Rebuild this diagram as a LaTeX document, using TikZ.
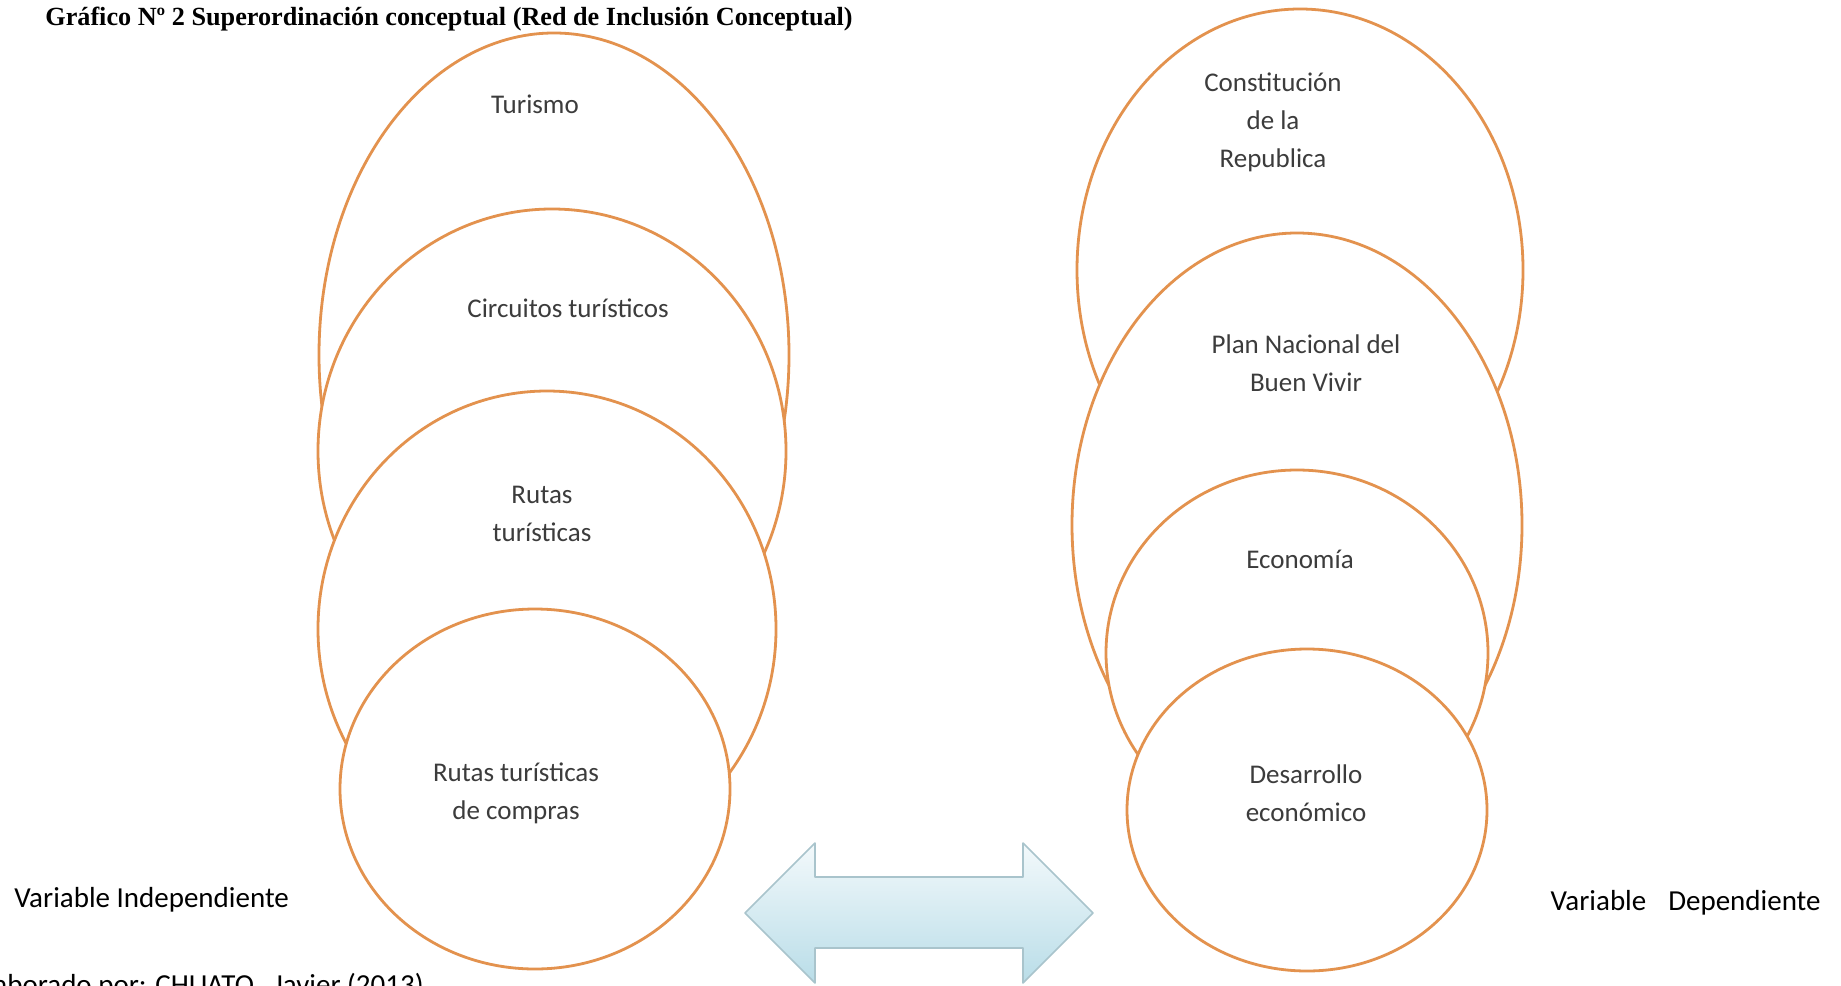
\documentclass[tikz,border=0pt]{standalone}
\usepackage{fontspec}
\setmainfont{Carlito}
\newfontfamily\titlefont{Liberation Serif}
\usepackage{tikz}
\usetikzlibrary{shapes.geometric,positioning}
\definecolor{peel}{HTML}{E3924E}
\definecolor{labelgray}{HTML}{3C3C3C}
\definecolor{skytop}{HTML}{F3F9FB}
\definecolor{skybot}{HTML}{B9DDE8}
\definecolor{skyline}{HTML}{A9C4CC}

\begin{document}
\begin{tikzpicture}[x=0.5pt,y=-0.5pt,
  bubble/.style={ellipse,draw=peel,line width=1.4pt,fill=white,inner sep=0pt},
  lbl/.style={font=\fontsize{13.5}{19}\selectfont,text=labelgray,align=center,inner sep=0pt},
  side/.style={font=\fontsize{14.5}{17}\selectfont,text=black,inner sep=0pt}]
\useasboundingbox[fill=white] (0,0) rectangle (1841,985);
\node[anchor=west,inner sep=0pt,font=\titlefont\bfseries\fontsize{13.1}{15}\selectfont] (title) at (45,19)
  {Gráfico Nº 2 Superordinación conceptual (Red de Inclusión Conceptual)};
% independiente
\node[bubble,minimum width=235pt,minimum height=322pt] (tur) at (554,355) {};
\node[bubble,minimum width=234pt,minimum height=242pt] (circ) at (552,451) {};
\node[bubble,minimum width=229pt,minimum height=238pt] (rut) at (547,629) {};
\node[bubble,minimum width=195pt,minimum height=180pt] (comp) at (535,789) {};
\node[lbl] (turtxt) at (535,104) {Turismo};
\node[lbl] (circtxt) at (568,308) {Circuitos turísticos};
\node[lbl] (ruttxt) at (542,514) {Rutas\\turísticas};
\node[lbl] (comptxt) at (516,793) {Rutas turísticas\\de compras};
% dependiente
\node[bubble,minimum width=223pt,minimum height=261pt] (cons) at (1300,270) {};
\node[bubble,minimum width=225pt,minimum height=292pt] (plan) at (1297,525) {};
\node[bubble,minimum width=191pt,minimum height=183pt] (eco) at (1297,653) {};
\node[bubble,minimum width=180pt,minimum height=161pt] (des) at (1307,810) {};
\node[lbl] (constxt) at (1273,122) {Constitución\\de la\\Republica};
\node[lbl] (plantxt) at (1306,363) {Plan Nacional del\\Buen Vivir};
\node[lbl] (ecotxt) at (1300,559) {Economía};
\node[lbl] (destxt) at (1306,793) {Desarrollo\\económico};
% flecha doble
\draw[draw=skyline,line width=0.8pt,top color=skytop,bottom color=skybot,line join=round]
  (745,913) -- (815,843) -- (815,877) -- (1023,877) -- (1023,843) -- (1093,913)
  -- (1023,983) -- (1023,948) -- (815,948) -- (815,983) -- cycle;
\node[side,anchor=west] (vind) at (14,900) {Variable Independiente};
\node[side,anchor=east] (vdep) at (1821,903) {Variable\hspace{11pt}Dependiente};
\node[side,anchor=base east] (autor) at (424,994) {Elaborado por: CHUATO,\ \ Javier (2013)};
\end{tikzpicture}
\end{document}
